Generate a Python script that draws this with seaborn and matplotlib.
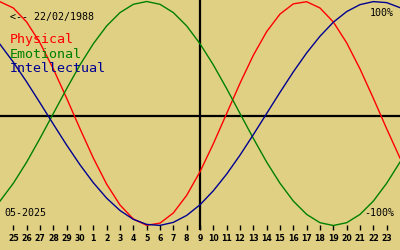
import matplotlib
matplotlib.use("Agg")
import matplotlib.pyplot as plt
import seaborn as sns
import pandas as pd

# ---- data (one value per day, 24 Apr .. 24 May 2025) ----
day_index = list(range(-1, 30))
physical = [0.998, 0.942, 0.817, 0.631, 0.398, 0.136, -0.136, -0.398, -0.631, -0.817,
            -0.942, -0.998, -0.979, -0.888, -0.731, -0.520, -0.270, 0.000, 0.270, 0.520,
            0.731, 0.888, 0.979, 0.998, 0.942, 0.817, 0.631, 0.398, 0.136, -0.136, -0.398]
emotional = [-0.782, -0.623, -0.434, -0.222, 0.000, 0.222, 0.434, 0.623, 0.782, 0.901,
             0.975, 1.000, 0.975, 0.901, 0.782, 0.623, 0.434, 0.222, 0.000, -0.222,
             -0.434, -0.623, -0.782, -0.901, -0.975, -1.000, -0.975, -0.901, -0.782, -0.623, -0.434]
intellectual = [0.618, 0.458, 0.282, 0.095, -0.095, -0.282, -0.458, -0.618, -0.756, -0.866,
                -0.945, -0.990, -0.999, -0.972, -0.910, -0.815, -0.690, -0.541, -0.372, -0.189,
                0.000, 0.189, 0.372, 0.541, 0.690, 0.815, 0.910, 0.972, 0.999, 0.990, 0.945]
series_names = ["Physical", "Emotional", "Intellectual"]
tick_positions = list(range(0, 29))
tick_labels = ["25", "26", "27", "28", "29", "30", "1", "2", "3", "4", "5", "6", "7", "8",
               "9", "10", "11", "12", "13", "14", "15", "16", "17", "18", "19", "20", "21",
               "22", "23"]
today_index = 14
birth_label = "<-- 22/02/1988"
month_label = "05-2025"
top_label = "100%"
bottom_label = "-100%"

# ---- styling ----
BG = "#E0D084"
colors = {"Physical": "#FF0000", "Emotional": "#008000", "Intellectual": "#000090"}

df = pd.concat([
    pd.DataFrame({"day": day_index, "value": physical, "series": "Physical"}),
    pd.DataFrame({"day": day_index, "value": emotional, "series": "Emotional"}),
    pd.DataFrame({"day": day_index, "value": intellectual, "series": "Intellectual"}),
])

W, H = 400, 250
fig = plt.figure(figsize=(4, 2.5), dpi=100, facecolor=BG)
ax = fig.add_axes([0, 20 / H, 1, 230 / H])
ax.set_facecolor(BG)

sns.lineplot(data=df, x="day", y="value", hue="series", palette=colors,
             hue_order=series_names, linewidth=1.0, legend=False, ax=ax, sort=False)

# pixel y = 113.5 - 112 * value
ax.set_xlim(-1, 29)
ax.set_ylim((113.5 - 230) / 112, 113.5 / 112)

ax.axhline(-0.02, color="black", linewidth=1.6, zorder=1)
ax.axvline(today_index, color="black", linewidth=1.6, zorder=1)

for s in ax.spines.values():
    s.set_visible(False)
ax.set_yticks([])
ax.set_xticks(tick_positions)
ax.set_xticklabels(tick_labels, fontsize=5.6, fontweight="bold", family="DejaVu Sans")
ax.tick_params(axis="x", direction="in", length=3.6, width=1.0, color="black", pad=3.2)
ax.set_xlabel("")
ax.set_ylabel("")

mono = "DejaVu Sans Mono"
def px(x, y):
    return x / W, 1 - y / H

fig.text(*px(10, 20), birth_label, family=mono, fontsize=7.2, color="black", va="baseline")
fig.text(*px(10, 43), series_names[0], family=mono, fontsize=9.6, color=colors["Physical"], va="baseline")
fig.text(*px(10, 57.5), series_names[1], family=mono, fontsize=9.6, color=colors["Emotional"], va="baseline")
fig.text(*px(10, 72.5), series_names[2], family=mono, fontsize=9.6, color=colors["Intellectual"], va="baseline")
fig.text(*px(4, 216), month_label, family=mono, fontsize=7.2, color="black", va="baseline")
fig.text(*px(394, 16), top_label, family=mono, fontsize=7.2, color="black", va="baseline", ha="right")
fig.text(*px(394, 216), bottom_label, family=mono, fontsize=7.2, color="black", va="baseline", ha="right")

fig.savefig("out.png", dpi=100, facecolor=BG)
